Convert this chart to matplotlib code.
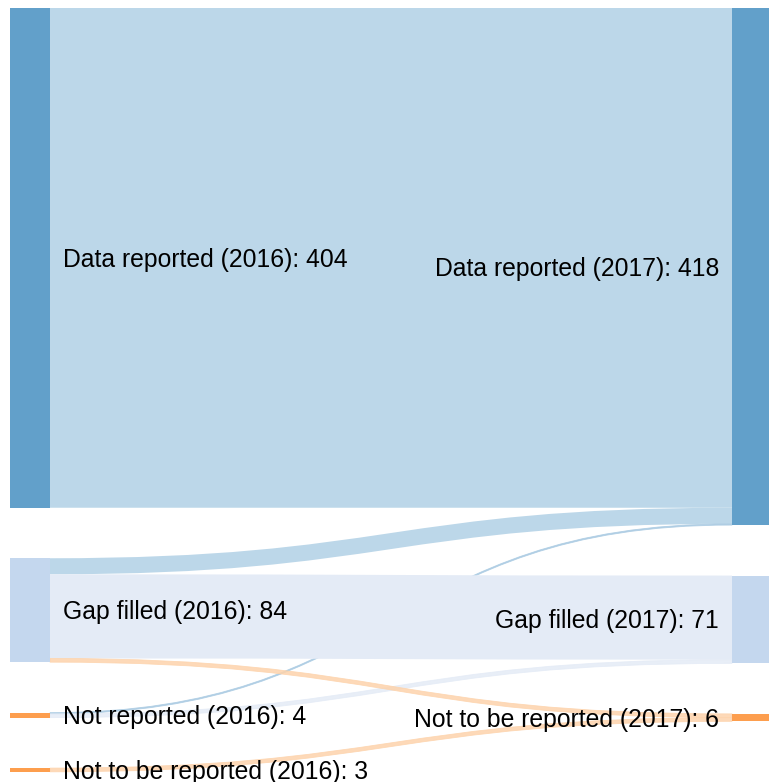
import matplotlib.pyplot as plt
from matplotlib.patches import PathPatch, Rectangle
from matplotlib.path import Path

plt.rcParams["font.family"] = ["Liberation Sans", "DejaVu Sans"]

LEFT_NODES = ["Data reported (2016)", "Gap filled (2016)", "Not reported (2016)", "Not to be reported (2016)"]
RIGHT_NODES = ["Data reported (2017)", "Gap filled (2017)", "Not to be reported (2017)"]
LEFT_COLORS = ["#62a0ca", "#c4d7ee", "#fd9e4e", "#fd9e4e"]
RIGHT_COLORS = ["#62a0ca", "#c4d7ee", "#fd9e4e"]
FLOW_COLORS = ["#bcd7e9", "#e4ebf6", "#fdd3ac"]  # by target

# (source index, target index, value)
FLOW_SRC = [0, 1, 2, 1, 2, 1, 3]
FLOW_DST = [0, 0, 0, 1, 1, 2, 2]
FLOW_VAL = [404, 13, 1, 68, 3, 3, 3]

W, H = 769, 782
SCALE = 1.237
PAD = 50.5
TOP = 8
X_LEFT = (10, 50)
X_RIGHT = (732, 769)


def node_totals(idx, n):
    return [sum(v for i, v in zip(idx, FLOW_VAL) if i == k) for k in range(n)]


def stack(values):
    pos, y = [], TOP
    for v in values:
        pos.append(y)
        y += v * SCALE + PAD
    return pos


left_tot = node_totals(FLOW_SRC, len(LEFT_NODES))
right_tot = node_totals(FLOW_DST, len(RIGHT_NODES))
left_y = stack(left_tot)
right_y = stack(right_tot)

fig = plt.figure(figsize=(W / 100, H / 100), dpi=100)
ax = fig.add_axes([0, 0, 1, 1])
ax.set_xlim(0, W)
ax.set_ylim(H, 0)
ax.axis("off")

# flows: ordered by target at source, by source at target
src_off = list(left_y)
dst_off = list(right_y)
order = sorted(range(len(FLOW_VAL)), key=lambda i: (FLOW_SRC[i], FLOW_DST[i]))
src_pos = {}
for i in order:
    src_pos[i] = src_off[FLOW_SRC[i]]
    src_off[FLOW_SRC[i]] += FLOW_VAL[i] * SCALE
order = sorted(range(len(FLOW_VAL)), key=lambda i: (FLOW_DST[i], FLOW_SRC[i]))
dst_pos = {}
for i in order:
    dst_pos[i] = dst_off[FLOW_DST[i]]
    dst_off[FLOW_DST[i]] += FLOW_VAL[i] * SCALE

x0, x1 = X_LEFT[1], X_RIGHT[0]
xm = (x0 + x1) / 2
for i in range(len(FLOW_VAL)):
    h = FLOW_VAL[i] * SCALE
    a, b = src_pos[i], dst_pos[i]
    verts = [(x0, a), (xm, a), (xm, b), (x1, b),
             (x1, b + h), (xm, b + h), (xm, a + h), (x0, a + h), (x0, a)]
    codes = [Path.MOVETO, Path.CURVE4, Path.CURVE4, Path.CURVE4,
             Path.LINETO, Path.CURVE4, Path.CURVE4, Path.CURVE4, Path.CLOSEPOLY]
    color = FLOW_COLORS[FLOW_DST[i]]
    thin = FLOW_VAL[i] < 5
    if FLOW_VAL[i] < 2:
        color = "#a9cae2"
    ax.add_patch(PathPatch(Path(verts, codes), facecolor=color,
                           edgecolor=color if thin else "none",
                           lw=0.6, alpha=0.85 if thin else 1.0))

for name, y, v, c in zip(LEFT_NODES, left_y, left_tot, LEFT_COLORS):
    ax.add_patch(Rectangle((X_LEFT[0], y), X_LEFT[1] - X_LEFT[0], v * SCALE, color=c, lw=0))
    ax.text(X_LEFT[1] + 13, y + v * SCALE / 2 + 2, f"{name}: {v}", ha="left", va="center", fontsize=17.8)

for name, y, v, c in zip(RIGHT_NODES, right_y, right_tot, RIGHT_COLORS):
    ax.add_patch(Rectangle((X_RIGHT[0], y), X_RIGHT[1] - X_RIGHT[0], v * SCALE, color=c, lw=0))
    ax.text(X_RIGHT[0] - 13, y + v * SCALE / 2 + 2, f"{name}: {v}", ha="right", va="center", fontsize=17.8)

fig.savefig("out.png", dpi=100)
